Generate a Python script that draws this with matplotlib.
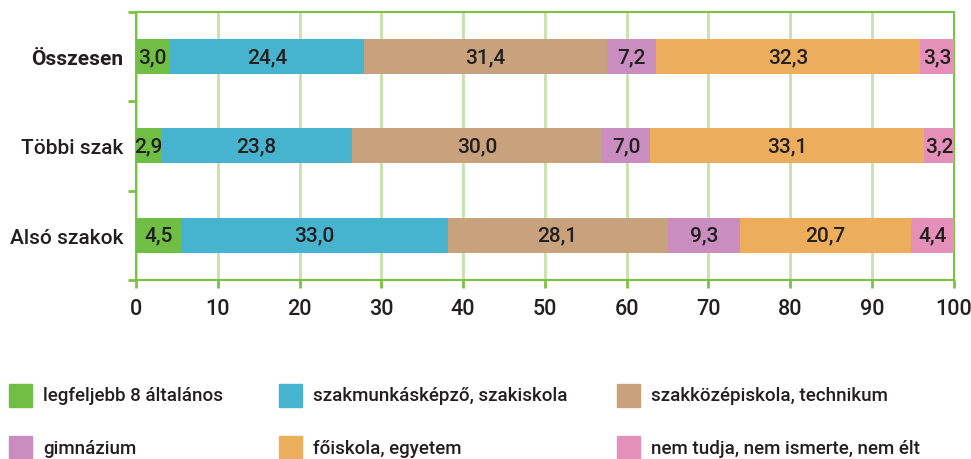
import matplotlib
matplotlib.use("Agg")
import matplotlib.pyplot as plt
from matplotlib.patches import Rectangle

plt.rcParams['font.family'] = ['Roboto', 'DejaVu Sans']
plt.rcParams['font.weight'] = 'medium'

categories = ["Összesen", "Többi szak", "Alsó szakok"]
series = ["legfeljebb 8 általános", "szakmunkásképző, szakiskola",
          "szakközépiskola, technikum", "gimnázium",
          "főiskola, egyetem", "nem tudja, nem ismerte, nem élt"]
# segment widths as drawn in the picture
widths = [[4.1, 23.8, 29.7, 6.0, 32.3, 4.1],
          [3.1, 23.3, 30.6, 5.9, 33.5, 3.6],
          [5.5, 32.6, 26.9, 8.9, 20.9, 5.2]]
# values printed on the segments
labels = [[3.0, 24.4, 31.4, 7.2, 32.3, 3.3],
          [2.9, 23.8, 30.0, 7.0, 33.1, 3.2],
          [4.5, 33.0, 28.1, 9.3, 20.7, 4.4]]
colors = ["#70bf44", "#47b4cf", "#c8a27d", "#c98dbf", "#ecae5c", "#e590b8"]
xticks = [0, 10, 20, 30, 40, 50, 60, 70, 80, 90, 100]

W, H = 971, 460
fig = plt.figure(figsize=(W / 100, H / 100), dpi=100)
ax = fig.add_axes([136 / W, 1 - 281 / H, 817.7 / W, 268.3 / H])

green = "#7cc142"
light = "#c6e1aa"
txt = "#231f20"

for i, cat in enumerate(categories):
    left = 0
    for j in range(len(series)):
        w = widths[i][j]
        ax.barh(i, w, left=left, height=0.39, color=colors[j], zorder=3)
        s = f"{labels[i][j]:.1f}".replace(".", ",")
        ax.text(left + w / 2, i, s, ha="center", va="center",
                fontsize=15, color=txt, zorder=4)
        left += w

ax.set_xlim(0, 100)
ax.set_ylim(2.5, -0.5)
ax.set_xticks(xticks)
ax.set_xticklabels([str(t) for t in xticks], fontsize=15.5, color=txt)
ax.set_yticks(range(len(categories)))
ax.set_yticklabels(categories, fontsize=15, color=txt)
ax.get_yticklabels()[0].set_fontweight("bold")
ax.set_yticks([-0.5, 0.5, 1.5, 2.5], minor=True)
ax.tick_params(axis="y", which="major", length=0, pad=9)
ax.tick_params(axis="y", which="minor", length=6, width=2, color=green, direction="out")
ax.tick_params(axis="x", length=6, width=2, color=green, pad=7)
ax.grid(axis="x", color=light, linewidth=2, zorder=0)
for sp in ax.spines.values():
    sp.set_color(green)
    sp.set_linewidth(1.5)

# legend, two rows of three
colx = [9, 279, 617]
rowy = [396, 449]
for k, name in enumerate(series):
    x0 = colx[k % 3]
    y0 = rowy[k // 3]
    fig.patches.append(Rectangle((x0 / W, 1 - (y0 + 11.5) / H), 23 / W, 23 / H,
                                 transform=fig.transFigure, color=colors[k]))
    fig.text((x0 + 34) / W, 1 - y0 / H, name, ha="left", va="center",
             fontsize=13.5, color=txt)

fig.savefig("out.png", dpi=100)
